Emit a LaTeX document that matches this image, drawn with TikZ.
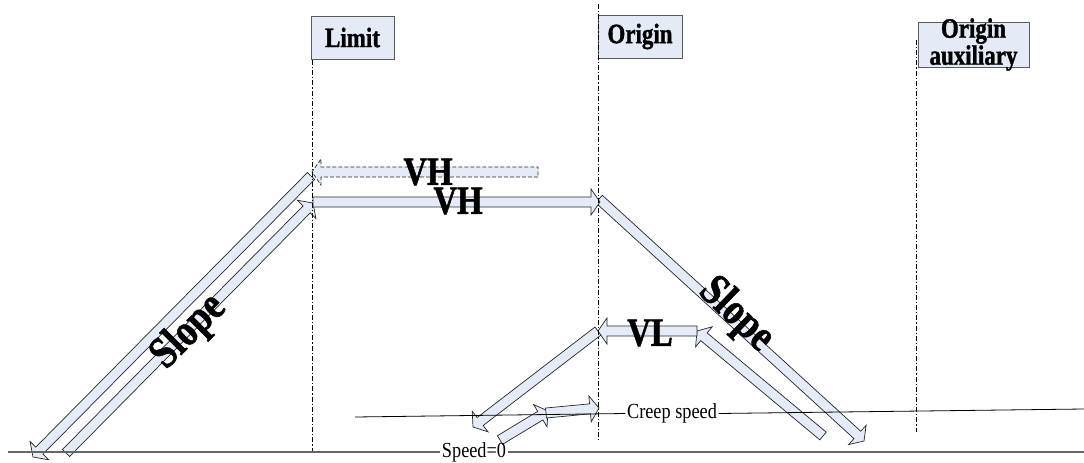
\documentclass[tikz,border=0pt]{standalone}
\usepackage{fontspec}
\setmainfont{Liberation Serif}
\newfontfamily\condbf[FakeStretch=0.82, FakeBold=1.2]{Liberation Serif Bold}
\newfontfamily\condrm[FakeStretch=0.85]{Liberation Serif}
\usetikzlibrary{calc}
\definecolor{arrowfill}{HTML}{E6ECF7}
\definecolor{boxfill}{HTML}{E4EAF6}
\definecolor{boxline}{HTML}{5A5A5A}
\tikzset{
  headbox/.style={draw=boxline, fill=boxfill, line width=0.9pt, inner sep=0pt},
  boxlabel/.style={font=\condbf\fontsize{28}{27}\selectfont, inner sep=0pt, align=center},
  biglabel/.style={font=\condbf\fontsize{40}{40}\selectfont, inner sep=0pt},
  slopelabel/.style={font=\condbf\fontsize{45}{45}\selectfont, inner sep=0pt},
  smalllabel/.style={font=\condrm\fontsize{21.5}{21.5}\selectfont, inner sep=1.5pt},
  guide/.style={draw=black, line width=0.8pt, dash pattern=on 5pt off 2pt on 1.2pt off 2pt},
  blockarrow/.style={draw=black!85, fill=arrowfill, line width=0.7pt, line join=miter},
  zeroline/.style={draw=black!60, line width=1.2pt},
  creepline/.style={draw=black, line width=0.8pt}
}
\newcommand\blockarr[3][]{%
  \coordinate (bh) at ($(#3)!9pt!(#2)$);
  \path[blockarrow,#1] ($(#2)!5pt!90:(#3)$) -- ($(bh)!5pt!90:(#3)$) -- ($(bh)!13pt!90:(#3)$) -- (#3)
    -- ($(bh)!13pt!-90:(#3)$) -- ($(bh)!5pt!-90:(#3)$) -- ($(#2)!5pt!-90:(#3)$) -- cycle;
}
\begin{document}
\begin{tikzpicture}[x=1pt,y=-1pt]
\useasboundingbox (0,0) rectangle (1084,463);
% coordinates of arrow ends
\coordinate (sLtop) at (311,176);
\coordinate (sLbot) at (33,457);
\coordinate (sLin0) at (66,453);
\coordinate (limVH) at (313,203);
\coordinate (vhd0) at (538,172);
\coordinate (limVHd) at (312,172);
\coordinate (vh0) at (313,202);
\coordinate (oriVH) at (600,202);
\coordinate (sRtop) at (599,199);
\coordinate (sRbot) at (864,441);
\coordinate (sRin0) at (823,436);
\coordinate (vl0) at (697,331);
\coordinate (oriVL) at (598,331);
\coordinate (vlbot) at (473,427);
\coordinate (cr0) at (500,440);
\coordinate (cr1) at (548,411);
\coordinate (cr2) at (546,413);
\coordinate (oriCr) at (599,408);
% block arrows
\blockarr{sLtop}{sLbot}
\blockarr{sLin0}{limVH}
\blockarr{sRtop}{sRbot}
\blockarr{sRin0}{vl0}
\blockarr{oriVL}{vlbot}
\blockarr{vl0}{oriVL}
\blockarr{cr0}{cr1}
\blockarr{cr2}{oriCr}
\blockarr{vh0}{oriVH}
\blockarr[dash pattern=on 4pt off 2pt]{vhd0}{limVHd}
% header boxes
\node[headbox, minimum width=83pt, minimum height=43pt] (limit) at (352.5,37.5) {};
\node[boxlabel] at (limit.center) {Limit};
\node[headbox, minimum width=84pt, minimum height=43pt] (origin) at (640,36.5) {};
\node[boxlabel] at (origin.center) {Origin};
\node[headbox, minimum width=111pt, minimum height=45pt] (aux) at (973.5,44.5) {};
\node[boxlabel] at (aux.center) {Origin\\auxiliary};
% guide lines
\coordinate (limA) at (312,60);
\coordinate (limB) at (312,451);
\coordinate (oriA) at (598,4);
\coordinate (oriB) at (598,440);
\coordinate (auxA) at (916,40);
\coordinate (auxB) at (916,432);
\draw[guide] (limA) -- (limB);
\draw[guide] (oriA) -- (oriB);
\draw[guide] (auxA) -- (auxB);
% speed lines
\node[smalllabel] (speed0) at (474,452) {Speed=0};
\coordinate (zeroL) at (8,452);
\coordinate (zeroR) at (1084,452);
\draw[zeroline] (zeroL) -- (speed0.west);
\draw[zeroline] (speed0.east) -- (zeroR);
\node[smalllabel] (creep) at (672,413.5) {Creep speed};
\coordinate (creepL) at (355,417);
\coordinate (creepR) at (1084,409);
\draw[creepline] (creepL) -- (creep.west);
\draw[creepline] (creep.east) -- (creepR);
% big labels
\node[biglabel] (vhdl) at (428,172) {VH};
\node[biglabel] (vhl) at (458,201) {VH};
\node[biglabel] (vll) at (650,333) {VL};
\node[slopelabel, rotate=45] (slopeL) at (189,332) {Slope};
\node[slopelabel, rotate=-44] (slopeR) at (736,315) {Slope};
\end{tikzpicture}
\end{document}
